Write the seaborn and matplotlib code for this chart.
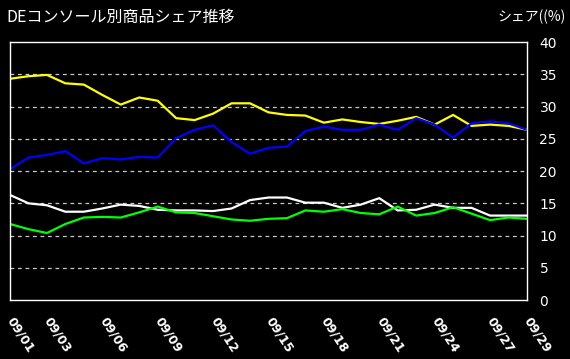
import numpy as np
import pandas as pd
import seaborn as sns
from matplotlib import pyplot as plt

# 09/01 .. 09/29 の日別シェア(%)
days = list(range(1, 30))
yellow = [34.3, 34.7, 34.9, 33.6, 33.4, 31.8, 30.3, 31.4, 30.9, 28.2,
          27.9, 28.9, 30.5, 30.5, 29.1, 28.7, 28.6, 27.5, 28.0, 27.6,
          27.3, 27.8, 28.4, 27.2, 28.7, 27.0, 27.2, 27.0, 26.4]
blue = [20.3, 22.1, 22.5, 23.1, 21.2, 22.0, 21.8, 22.2, 22.1, 25.1,
        26.4, 27.1, 24.5, 22.7, 23.6, 23.8, 26.2, 26.9, 26.4, 26.4,
        27.2, 26.4, 28.2, 27.2, 25.2, 27.4, 27.7, 27.4, 26.4]
white = [16.3, 15.0, 14.7, 13.7, 13.7, 14.2, 14.8, 14.6, 14.0, 13.9,
         13.9, 13.8, 14.2, 15.5, 15.9, 15.9, 15.1, 15.1, 14.3, 14.8,
         15.8, 13.9, 14.0, 14.8, 14.3, 14.3, 13.1, 13.1, 13.1]
green = [11.8, 11.0, 10.4, 11.8, 12.8, 12.9, 12.8, 13.6, 14.5, 13.6,
         13.5, 13.0, 12.5, 12.3, 12.6, 12.7, 13.9, 13.7, 14.1, 13.5,
         13.3, 14.5, 13.1, 13.5, 14.4, 13.4, 12.4, 12.8, 12.6]

tick_days = [1, 3, 6, 9, 12, 15, 18, 21, 24, 27, 29]
tick_labels = ['09/01', '09/03', '09/06', '09/09', '09/12', '09/15',
               '09/18', '09/21', '09/24', '09/27', '09/29']
y_ticks = [0, 5, 10, 15, 20, 25, 30, 35, 40]

series = {'A': yellow, 'B': blue, 'C': white, 'D': green}
colors = {'A': '#ffff00', 'B': '#0000ff', 'C': '#ffffff', 'D': '#00ff00'}
df = pd.concat([pd.DataFrame({'day': days, 'share': v, 'item': k})
                for k, v in series.items()])

sns.set_style('dark')
plt.rcParams['font.family'] = ['Noto Sans CJK JP', 'DejaVu Sans']

fig = plt.figure(figsize=(5.7, 3.59), dpi=100, facecolor='black')
ax = fig.add_axes([0.0175, 0.164, 0.907, 0.719], facecolor='black')

sns.lineplot(data=df, x='day', y='share', hue='item', palette=colors,
             linewidth=1.6, legend=False, ax=ax)

ax.set_xlim(1, 29)
ax.set_ylim(0, 40)
ax.set_xlabel('')
ax.set_ylabel('')

ax.yaxis.tick_right()
ax.set_yticks(y_ticks)
ax.set_yticklabels([str(t) for t in y_ticks], color='white', fontsize=10,
                   family='DejaVu Sans')
ax.set_xticks(tick_days)
ax.set_xticklabels(tick_labels, color='white', fontsize=9, family='DejaVu Sans',
                   fontweight='bold', rotation=-57, ha='left', va='center',
                   rotation_mode='anchor')
ax.tick_params(axis='both', length=0)
ax.tick_params(axis='x', pad=13)
ax.tick_params(axis='y', pad=9)

ax.grid(False)
for g in y_ticks[1:-1]:
    ax.axhline(g, color='#c8c8c8', linestyle=(0, (3, 3)), linewidth=0.9, zorder=0)

for s in ax.spines.values():
    s.set_visible(True)
    s.set_color('white')
    s.set_linewidth(1.0)

fig.text(0.012, 0.952, 'DEコンソール別商品シェア推移', color='white', fontsize=11.5,
         ha='left', va='center')
fig.text(0.993, 0.952, 'シェア((%)', color='white', fontsize=10,
         ha='right', va='center')

fig.savefig('out.png', dpi=100, facecolor='black')
